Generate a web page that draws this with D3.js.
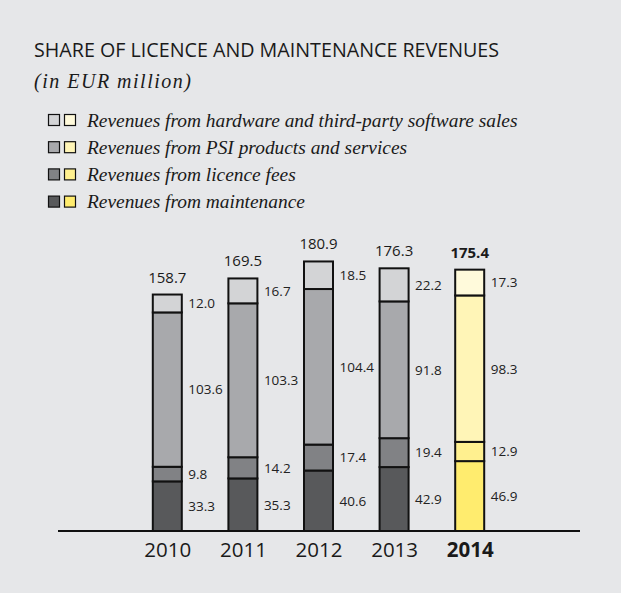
<!DOCTYPE html>
<html>
<head>
<meta charset="utf-8">
<script src="https://cdn.jsdelivr.net/npm/d3@7"></script>
<style>
  html, body { margin: 0; padding: 0; background: #e6e7e9; }
  svg { display: block; }
</style>
</head>
<body>
<svg id="chart" width="621" height="593"></svg>
<script>
// Revenue breakdown, EUR million
const years = ["2010", "2011", "2012", "2013", "2014"];
const maintenance = [33.3, 35.3, 40.6, 42.9, 46.9];
const licenceFees = [9.8, 14.2, 17.4, 19.4, 12.9];
const psiProducts = [103.6, 103.3, 104.4, 91.8, 98.3];
const hardware = [12.0, 16.7, 18.5, 22.2, 17.3];
const totals = [158.7, 169.5, 180.9, 176.3, 175.4];
const highlightYear = "2014";

const seriesKeys = ["maintenance", "licence", "psi", "hardware"];
const legendLabels = [
  "Revenues from hardware and third-party software sales",
  "Revenues from PSI products and services",
  "Revenues from licence fees",
  "Revenues from maintenance"
];
const legendKeys = ["hardware", "psi", "licence", "maintenance"];

const grayFill = { maintenance: "#58595b", licence: "#818285", psi: "#a8a9ac", hardware: "#d3d4d6" };
const yellowFill = { maintenance: "#ffec6e", licence: "#fff08f", psi: "#fff5b7", hardware: "#fffadb" };

const rows = years.map((y, i) => ({
  year: y,
  maintenance: maintenance[i],
  licence: licenceFees[i],
  psi: psiProducts[i],
  hardware: hardware[i],
  total: totals[i]
}));

const svg = d3.select("#chart");
const sans = "'Open Sans', 'DejaVu Sans', sans-serif";
const serif = "'Liberation Serif', 'DejaVu Serif', serif";

svg.append("rect").attr("width", 621).attr("height", 593).attr("fill", "#e6e7e9");

// Heading
svg.append("text")
  .attr("x", 34).attr("y", 57)
  .attr("font-family", sans).attr("font-size", 19.7)
  .attr("fill", "#1a1a1a")
  .text("SHARE OF LICENCE AND MAINTENANCE REVENUES");

svg.append("text")
  .attr("x", 34).attr("y", 88)
  .attr("font-family", serif).attr("font-style", "italic").attr("font-size", 20)
  .attr("letter-spacing", 1.5)
  .attr("fill", "#1a1a1a")
  .text("(in EUR million)");

// Legend: gray and yellow swatch for each series
const legend = svg.append("g");
legendKeys.forEach((k, i) => {
  const cy = 120 + i * 27.2;
  legend.append("rect").attr("x", 48.5).attr("y", cy - 5.5).attr("width", 11).attr("height", 11)
    .attr("fill", grayFill[k]).attr("stroke", "#111").attr("stroke-width", 1.2);
  legend.append("rect").attr("x", 64.5).attr("y", cy - 5.5).attr("width", 11).attr("height", 11)
    .attr("fill", yellowFill[k]).attr("stroke", "#111").attr("stroke-width", 1.2);
  legend.append("text").attr("x", 87).attr("y", cy + 6.5)
    .attr("font-family", serif).attr("font-style", "italic").attr("font-size", 19.4)
    .attr("fill", "#1a1a1a")
    .text(legendLabels[i]);
});

// Scales
const baseY = 531;
const x = d3.scalePoint().domain(years).range([167.3, 469.7]);
const y = d3.scaleLinear().domain([0, 200]).range([baseY, baseY - 298]);
const barW = 29;

const stack = d3.stack().keys(seriesKeys)(rows);

const bars = svg.append("g");
stack.forEach(layer => {
  layer.forEach((seg, i) => {
    const yr = rows[i].year;
    const fill = yr === highlightYear ? yellowFill[layer.key] : grayFill[layer.key];
    bars.append("rect")
      .attr("x", x(yr) - barW / 2)
      .attr("y", y(seg[1]))
      .attr("width", barW)
      .attr("height", y(seg[0]) - y(seg[1]))
      .attr("fill", fill)
      .attr("stroke", "#111")
      .attr("stroke-width", 2);
  });
});

// Segment value labels to the right of each bar
const labels = svg.append("g");
stack.forEach(layer => {
  layer.forEach((seg, i) => {
    const yr = rows[i].year;
    labels.append("text")
      .attr("x", x(yr) + barW / 2 + 6.5)
      .attr("y", (y(seg[0]) + y(seg[1])) / 2)
      .attr("dy", "0.36em")
      .attr("font-family", sans).attr("font-size", 13.5)
      .attr("fill", "#222")
      .text(d3.format(".1f")(seg.data[layer.key]));
  });
});

// Totals above each bar
rows.forEach(r => {
  svg.append("text")
    .attr("x", x(r.year)).attr("y", y(r.total) - 12)
    .attr("text-anchor", "middle")
    .attr("font-family", sans).attr("font-size", 15)
    .attr("font-weight", r.year === highlightYear ? "bold" : "normal")
    .attr("fill", "#1a1a1a")
    .text(d3.format(".1f")(r.total));
});

// Baseline and year axis
svg.append("line")
  .attr("x1", 58).attr("x2", 580).attr("y1", baseY).attr("y2", baseY)
  .attr("stroke", "#111").attr("stroke-width", 2);

const axis = d3.axisBottom(x).tickSize(0).tickPadding(10);
const gAxis = svg.append("g").attr("transform", `translate(0,${baseY + 1.5})`).call(axis);
gAxis.select(".domain").remove();
gAxis.selectAll("text")
  .attr("font-family", sans).attr("font-size", 20.5)
  .attr("fill", "#1a1a1a")
  .attr("font-weight", d => d === highlightYear ? "bold" : "normal");
</script>
</body>
</html>
